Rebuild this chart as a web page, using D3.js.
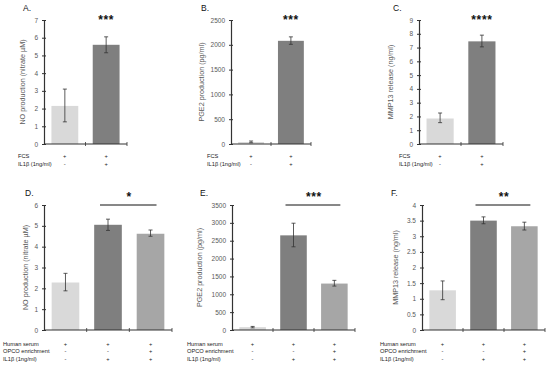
<!DOCTYPE html>
<html><head><meta charset="utf-8">
<script src="https://cdn.jsdelivr.net/npm/d3@7"></script>
<style>body{margin:0;background:#fff}svg{display:block}text{font-family:"Liberation Sans",Arial,sans-serif}</style>
</head><body><svg id="c" width="550" height="366"></svg>
<script>
// ---- data ----
const panelLetters = ["A.","B.","C.","D.","E.","F."];
const yTitles = ["NO production (nitrate \u00b5M)","PGE2 production (pg/ml)","MMP13 release (ng/ml)",
                 "NO production (nitrate \u00b5M)","PGE2 production (pg/ml)","MMP13 release (ng/ml)"];
const yMax = [7, 2500, 9, 6, 3500, 4];
const yStep = [1, 500, 1, 1, 500, 0.5];
const valuesA = [2.15, 5.6],   errLoA = [1.25, 5.15], errHiA = [3.1, 6.05];
const valuesB = [40, 2080],    errLoB = [25, 2010],   errHiB = [60, 2160];
const valuesC = [1.85, 7.45],  errLoC = [1.55, 7.05], errHiC = [2.25, 7.9];
const valuesD = [2.28, 5.05, 4.62], errLoD = [1.88, 4.78, 4.5], errHiD = [2.72, 5.32, 4.8];
const valuesE = [80, 2650, 1300],   errLoE = [60, 2330, 1230],  errHiE = [100, 2990, 1390];
const valuesF = [1.27, 3.5, 3.32],  errLoF = [0.97, 3.4, 3.2],  errHiF = [1.57, 3.62, 3.45];
const significance = ["***","***","****","*","***","**"];
const rowLabelsTop = ["FCS","IL1\u03b2 (1ng/ml)"];
const rowMarksTop = [["+","+"],["-","+"]];
const rowLabelsBottom = ["Human serum","OPCO enrichment","IL1\u03b2 (1ng/ml)"];
const rowMarksBottom = [["+","+","+"],["-","-","+"],["-","+","+"]];
const colors2 = ["#d9d9d9","#7f7f7f"];
const colors3 = ["#d9d9d9","#7f7f7f","#a6a6a6"];

const panels = [
 {v:valuesA,lo:errLoA,hi:errHiA},{v:valuesB,lo:errLoB,hi:errHiB},{v:valuesC,lo:errLoC,hi:errHiC},
 {v:valuesD,lo:errLoD,hi:errHiD},{v:valuesE,lo:errLoE,hi:errHiE},{v:valuesF,lo:errLoF,hi:errHiF}];

// ---- layout ----
const layout = [
 {x0:44,x1:127,y0:144,y1:20,titleX:23,titleOff:-19,lblOff:-26},
 {x0:231,x1:311,y0:144,y1:20,titleX:201,titleOff:-27,lblOff:-24},
 {x0:419,x1:503,y0:144,y1:20,titleX:393,titleOff:-26,lblOff:-20},
 {x0:44,x1:172,y0:330,y1:205,titleX:25,titleOff:-16,lblOff:-41},
 {x0:232,x1:355,y0:330,y1:205,titleX:200,titleOff:-30,lblOff:-45},
 {x0:422,x1:545,y0:330,y1:205,titleX:391,titleOff:-24,lblOff:-42}];

const svg = d3.select("#c");
const fmt = d3.format("~g");

panels.forEach((p,i)=>{
  const L = layout[i];
  const n = p.v.length;
  const g = svg.append("g");
  const cats = d3.range(n);
  const x = d3.scaleBand().domain(cats).range([L.x0,L.x1]).paddingInner(0.35).paddingOuter(0.18);
  const xb = d3.scaleBand().domain(cats).range([L.x0,L.x1]);
  const y = d3.scaleLinear().domain([0,yMax[i]]).range([L.y0,L.y1]);
  const cols = n===2?colors2:colors3;

  g.selectAll("rect").data(p.v).join("rect")
    .attr("x",(d,j)=>x(j)).attr("width",x.bandwidth())
    .attr("y",d=>y(d)).attr("height",d=>y(0)-y(d)).attr("fill",(d,j)=>cols[j]);

  p.v.forEach((d,j)=>{
    const cx = x(j)+x.bandwidth()/2;
    g.append("line").attr("x1",cx).attr("x2",cx).attr("y1",y(p.lo[j])).attr("y2",y(p.hi[j])).attr("stroke","#333").attr("stroke-width",0.8);
    [p.lo[j],p.hi[j]].forEach(e=>g.append("line").attr("x1",cx-2).attr("x2",cx+2).attr("y1",y(e)).attr("y2",y(e)).attr("stroke","#333").attr("stroke-width",0.8));
  });

  const ticks = d3.range(0,yMax[i]+yStep[i]/2,yStep[i]);
  const ya = g.append("g").attr("transform",`translate(${L.x0},0)`)
    .call(d3.axisLeft(y).tickValues(ticks).tickFormat(fmt).tickSizeInner(2).tickSizeOuter(0).tickPadding(4));
  ya.select(".domain").attr("stroke","#333").attr("stroke-width",1.2);
  ya.selectAll(".tick line").attr("stroke","#333").attr("x2",2).attr("x1",-2);
  ya.selectAll(".tick text").attr("font-size",6.5).attr("fill","#595959");

  const xa = g.append("g").attr("transform",`translate(0,${L.y0})`)
    .call(d3.axisBottom(xb).tickValues(d3.range(1,n)).tickSize(0).tickFormat(""));
  xa.select(".domain").attr("stroke","#333").attr("stroke-width",1.2).attr("d",`M${L.x0},0H${L.x1}`);
  d3.range(1,n+1).forEach(k=>{
    const xx = L.x0 + (L.x1-L.x0)*k/n;
    xa.append("line").attr("x1",xx).attr("x2",xx).attr("y1",-2).attr("y2",2).attr("stroke","#333").attr("stroke-width",0.8);
  });

  g.append("text").attr("transform",`translate(${L.x0+L.titleOff},${(L.y0+L.y1)/2}) rotate(-90)`)
    .attr("text-anchor","middle").attr("font-size",7.2).attr("fill","#595959").text(yTitles[i]);

  g.append("text").attr("x",L.titleX).attr("y",L.y1-9).attr("font-size",8.5).attr("fill","#111").text(panelLetters[i]);

  const bc = j=>x(j)+x.bandwidth()/2;
  if(n===2){
    g.append("text").attr("x",bc(1)).attr("y",L.y1+4).attr("text-anchor","middle")
      .attr("font-size",12).attr("font-weight","bold").attr("letter-spacing",0.6).attr("fill","#111").text(significance[i]);
  } else {
    const ly = L.y1;
    g.append("line").attr("x1",bc(1)-8).attr("x2",bc(2)+6).attr("y1",ly).attr("y2",ly).attr("stroke","#111").attr("stroke-width",1);
    g.append("text").attr("x",(bc(1)+bc(2))/2).attr("y",ly-4).attr("text-anchor","middle")
      .attr("font-size",12).attr("font-weight","bold").attr("letter-spacing",0.6).attr("fill","#111").text(significance[i]);
  }

  const labels = n===2?rowLabelsTop:rowLabelsBottom;
  const marks = n===2?rowMarksTop:rowMarksBottom;
  const rowY = n===2?[158,166]:[346,353,361];
  labels.forEach((lab,r)=>{
    g.append("text").attr("x",L.x0+L.lblOff).attr("y",rowY[r]).attr("font-size",5.7).attr("fill","#222").text(lab);
    marks[r].forEach((m,j)=>g.append("text").attr("x",xb(j)+xb.bandwidth()/2).attr("y",rowY[r])
      .attr("text-anchor","middle").attr("font-size",5.7).attr("fill","#222").text(m));
  });
});
</script></body></html>
